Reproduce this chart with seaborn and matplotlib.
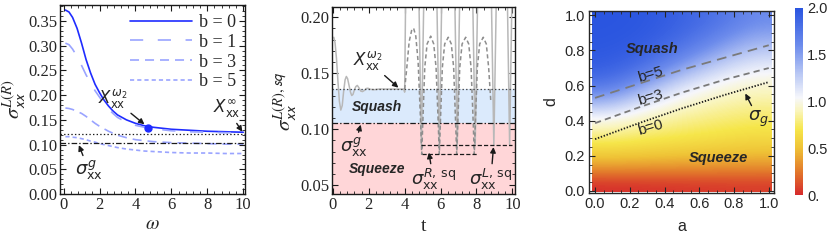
import numpy as np
import matplotlib
matplotlib.use("Agg")
import matplotlib.pyplot as plt
import seaborn as sns
from matplotlib.colors import LinearSegmentedColormap
from matplotlib.ticker import MultipleLocator, FormatStrFormatter

# ---- panel 1: variance vs omega ----
omega = [0.1, 0.3, 0.5, 0.75, 1.0, 1.25, 1.5, 1.75, 2.0, 2.25, 2.5, 2.75, 3.0, 3.5,
         4.0, 4.5, 5.0, 6.0, 7.0, 8.0, 9.0, 10.0]
sig_b0 = [0.372, 0.368, 0.357, 0.335, 0.305, 0.272, 0.245, 0.222, 0.205, 0.190, 0.178, 0.168,
          0.160, 0.150, 0.143, 0.138, 0.135, 0.131, 0.129, 0.127, 0.126, 0.125]
sig_b1 = [0.305, 0.302, 0.293, 0.278, 0.260, 0.241, 0.225, 0.209, 0.196, 0.183, 0.172, 0.163,
          0.155, 0.145, 0.139, 0.135, 0.132, 0.128, 0.126, 0.125, 0.124, 0.124]
sig_b3 = [0.174, 0.173, 0.171, 0.167, 0.163, 0.157, 0.150, 0.143, 0.137, 0.132, 0.127, 0.123,
          0.119, 0.114, 0.110, 0.108, 0.106, 0.104, 0.103, 0.102, 0.101, 0.101]
sig_b5 = [0.116, 0.116, 0.115, 0.114, 0.112, 0.110, 0.107, 0.105, 0.102, 0.100, 0.098, 0.096,
          0.094, 0.091, 0.089, 0.087, 0.086, 0.084, 0.083, 0.083, 0.082, 0.082]
b_labels = ["b = 0", "b = 1", "b = 3", "b = 5"]
x_inf_level = 0.121
sig_g_level1 = 0.104
omega2_pt = (4.72, 0.133)

# ---- panel 2: time evolution ----
t_solid = [0.05, 0.12, 0.2, 0.28, 0.36, 0.44, 0.52, 0.6, 0.68, 0.75, 0.82, 0.9, 0.98, 1.05,
           1.12, 1.2, 1.28, 1.36, 1.45, 1.55, 1.65, 1.75, 1.85, 1.95, 2.1, 2.3, 2.6, 3.0, 3.5, 3.95,
           4.0, 4.08, 4.4, 4.8, 4.93, 5.06, 5.43, 5.8, 5.93, 6.06, 6.43, 6.8, 6.93, 7.06,
           7.43, 7.8, 7.93, 8.06, 8.45, 8.84, 8.97, 9.1, 9.42, 9.73, 9.85, 9.97, 10.1]
v_solid = [0.182, 0.177, 0.163, 0.143, 0.125, 0.117, 0.121, 0.134, 0.144, 0.147, 0.145, 0.139, 0.133, 0.130,
           0.131, 0.135, 0.138, 0.139, 0.137, 0.134, 0.1335, 0.1345, 0.1362, 0.1365, 0.1355, 0.1352, 0.1358,
           0.1357, 0.1357, 0.1357,
           0.133, 0.26, 0.33, 0.21, 0.0855, 0.21, 0.33, 0.21, 0.0855, 0.21, 0.33, 0.21, 0.0855, 0.21,
           0.33, 0.21, 0.0855, 0.21, 0.33, 0.21, 0.0855, 0.21, 0.33, 0.21, 0.0855, 0.21, 0.30]
t_dash = [4.0, 4.12, 4.25, 4.4, 4.5, 4.62, 4.75, 4.88, 4.95, 5.02, 5.12, 5.25, 5.45, 5.62, 5.75,
          5.86, 5.93, 6.0, 6.1, 6.23, 6.43, 6.6, 6.73, 6.83, 6.9, 6.97, 7.07, 7.2, 7.4, 7.57,
          7.7, 7.81, 7.88, 7.95, 8.05, 8.18, 8.38, 8.55, 8.68, 8.8]
v_dash = [0.1357, 0.155, 0.178, 0.189, 0.190, 0.183, 0.160, 0.110, 0.0775, 0.110, 0.155, 0.176, 0.183, 0.176, 0.155,
          0.110, 0.0775, 0.110, 0.155, 0.176, 0.182, 0.176, 0.155, 0.110, 0.0775, 0.110, 0.155, 0.176, 0.182, 0.176,
          0.155, 0.110, 0.0775, 0.110, 0.155, 0.176, 0.182, 0.176, 0.155, 0.125]
x_w2_level = 0.1357
sig_g_level2 = 0.1054
sig_L_sq = 0.0855
sig_R_sq = 0.0775
sig_L_span = (4.93, 10.0)
sig_R_span = (4.95, 8.04)

# ---- panel 3: squeezing map over (a, d) ----
a_grid = [0.0, 0.25, 0.5, 0.75, 1.0]
d_grid = [0.0, 0.1, 0.2, 0.3, 0.4, 0.5, 0.6, 0.7, 0.8, 0.9, 1.0]
ratio_a0 = [0.02, 0.36, 0.60, 0.82, 1.02, 1.40, 1.75, 1.92, 1.97, 1.99, 2.00]
ratio_a25 = [0.03, 0.35, 0.58, 0.76, 0.91, 1.12, 1.45, 1.75, 1.90, 1.96, 1.98]
ratio_a50 = [0.04, 0.34, 0.56, 0.72, 0.84, 0.96, 1.15, 1.45, 1.70, 1.85, 1.90]
ratio_a75 = [0.05, 0.33, 0.54, 0.68, 0.79, 0.89, 1.00, 1.20, 1.45, 1.65, 1.78]
ratio_a100 = [0.06, 0.32, 0.52, 0.65, 0.75, 0.85, 0.94, 1.06, 1.25, 1.45, 1.60]
a_line = [0.0, 0.25, 0.5, 0.75, 1.0]
d_b0 = [0.295, 0.385, 0.47, 0.548, 0.62]
d_b3 = [0.386, 0.475, 0.56, 0.635, 0.70]
d_b5 = [0.53, 0.61, 0.69, 0.76, 0.83]
cbar_ticks = [0.0, 0.5, 1.0, 1.5, 2.0]
cbar_labels = ["0.", "0.5", "1.0", "1.5", "2.0"]

sns.set_theme(style="ticks")
serif = ["Liberation Serif", "DejaVu Serif"]
sans = ["Liberation Sans", "DejaVu Sans"]
plt.rcParams["font.family"] = serif
plt.rcParams["mathtext.fontset"] = "stix"
plt.rcParams["lines.scale_dashes"] = False
plt.rcParams["axes.linewidth"] = 1.0

fig = plt.figure(figsize=(8.3, 2.42), dpi=100)
ax1 = fig.add_axes([0.0723, 0.198, 0.2229, 0.781])
ax2 = fig.add_axes([0.400, 0.198, 0.2205, 0.773])
ax3 = fig.add_axes([0.7096, 0.2025, 0.2229, 0.752])
cax = fig.add_axes([0.958, 0.194, 0.0096, 0.773])

for ax in (ax1, ax2):
    ax.tick_params(which="both", direction="in", top=True, right=True, labelsize=12,
                   color="k", pad=2)
    ax.tick_params(which="major", length=4, width=0.8)
    ax.tick_params(which="minor", length=2, width=0.6)
    for sp in ax.spines.values():
        sp.set_color("k")

ann = dict(arrowstyle="-|>", color="k", lw=1.0, mutation_scale=8, shrinkA=0, shrinkB=0)

# panel 1
blue = "#1f2cff"
light = "#9aa4ff"
sns.lineplot(x=omega, y=sig_b0, ax=ax1, color=blue, lw=1.2, label=b_labels[0])
sns.lineplot(x=omega, y=sig_b1, ax=ax1, color=light, lw=1.2, label=b_labels[1])
ax1.lines[-1].set_dashes((9.5, 10.5))
sns.lineplot(x=omega, y=sig_b3, ax=ax1, color=light, lw=1.2, label=b_labels[2])
ax1.lines[-1].set_dashes((6.5, 4.3))
sns.lineplot(x=omega, y=sig_b5, ax=ax1, color=light, lw=1.2, label=b_labels[3])
ax1.lines[-1].set_dashes((3, 2.2))
ax1.axhline(x_inf_level, color="k", lw=0.9, dashes=(1, 1.6))
ax1.axhline(sig_g_level1, color="k", lw=0.9, dashes=(4, 1.5, 1, 1.5))
ax1.plot(*omega2_pt, "o", color=blue, ms=5)
ax1.set_xlim(-0.2, 10.1)
ax1.set_ylim(0.0, 0.382)
ax1.xaxis.set_major_locator(MultipleLocator(2))
ax1.xaxis.set_minor_locator(MultipleLocator(0.4))
ax1.yaxis.set_major_locator(MultipleLocator(0.05))
ax1.yaxis.set_minor_locator(MultipleLocator(0.01))
ax1.yaxis.set_major_formatter(FormatStrFormatter("%.2f"))
ax1.set_xlabel(r"$\omega$", fontsize=14, labelpad=2)
ax1.set_ylabel(r"$\sigma_{\mathsf{xx}}^{L(R)}$", fontsize=15, labelpad=0)
leg = ax1.legend(loc="upper right", frameon=False, fontsize=13, handlelength=3.4,
                 handletextpad=0.4, labelspacing=0.15, borderaxespad=0.1)
ax1.annotate(r"$X_{\mathsf{xx}}^{\omega_2}$", xy=(4.5, 0.141), xytext=(2.75, 0.193),
             fontsize=12, ha="center", va="center", arrowprops=ann, math_fontfamily="dejavusans")
ax1.annotate(r"$X_{\mathsf{xx}}^{\infty}$", xy=(9.95, 0.126), xytext=(9.1, 0.172),
             fontsize=12, ha="center", va="center", arrowprops=ann, math_fontfamily="dejavusans")
ax1.annotate(r"$\sigma_{\mathsf{xx}}^{g}$", xy=(0.85, 0.099), xytext=(1.4, 0.048),
             fontsize=13, ha="center", va="center", arrowprops=ann, math_fontfamily="dejavusans")

# panel 2
ax2.axhspan(0.0, sig_g_level2, color="#ffd6d8", lw=0, zorder=0)
ax2.axhspan(sig_g_level2, x_w2_level, color="#dbeafc", lw=0, zorder=0)
sns.lineplot(x=t_solid, y=v_solid, ax=ax2, color="#b8b8b8", lw=1.1)
sns.lineplot(x=t_dash, y=v_dash, ax=ax2, color="#8e8e8e", lw=1.1)
ax2.lines[-1].set_dashes((3, 2))
ax2.axhline(x_w2_level, color="#444444", lw=0.9, dashes=(1, 1.6))
ax2.axhline(sig_g_level2, color="k", lw=0.9, dashes=(4, 1.5, 1, 1.5))
ax2.plot(sig_L_span, [sig_L_sq, sig_L_sq], color="k", lw=0.9, dashes=(3, 1.5))
ax2.plot(sig_R_span, [sig_R_sq, sig_R_sq], color="k", lw=0.9, dashes=(3, 1.5))
ax2.set_xlim(-0.05, 10.15)
ax2.set_ylim(0.042, 0.209)
ax2.xaxis.set_major_locator(MultipleLocator(2))
ax2.xaxis.set_minor_locator(MultipleLocator(0.4))
ax2.yaxis.set_major_locator(MultipleLocator(0.05))
ax2.yaxis.set_minor_locator(MultipleLocator(0.01))
ax2.yaxis.set_major_formatter(FormatStrFormatter("%.2f"))
ax2.set_xlabel("t", fontsize=14, labelpad=4)
ax2.set_ylabel(r"$\sigma_{\mathsf{xx}}^{L(R),\mathsf{sq}}$", fontsize=15, labelpad=1)
bold_it = dict(family="Liberation Sans", fontweight="bold", fontstyle="italic")
ax2.text(2.45, 0.1195, "Squash", fontsize=10, ha="center", va="center", **bold_it)
ax2.text(2.45, 0.0645, "Squeeze", fontsize=10, ha="center", va="center", **bold_it)
ax2.annotate(r"$X_{\mathsf{xx}}^{\omega_2}$", xy=(3.65, 0.137), xytext=(1.95, 0.161),
             fontsize=12, ha="center", va="center", arrowprops=ann, math_fontfamily="dejavusans")
ax2.annotate(r"$\sigma_{\mathsf{xx}}^{g}$", xy=(1.55, 0.104), xytext=(1.2, 0.084),
             fontsize=13, ha="center", va="center", arrowprops=ann, math_fontfamily="dejavusans")
ax2.annotate(r"$\sigma_{\mathsf{xx}}^{R,\,\mathsf{sq}}$", xy=(5.35, 0.079), xytext=(5.6, 0.055),
             fontsize=13, ha="center", va="center", arrowprops=ann, math_fontfamily="dejavusans")
ax2.annotate(r"$\sigma_{\mathsf{xx}}^{L,\,\mathsf{sq}}$", xy=(8.95, 0.084), xytext=(8.8, 0.055),
             fontsize=13, ha="center", va="center", arrowprops=ann, math_fontfamily="dejavusans")

# panel 3
cmap = LinearSegmentedColormap.from_list("sq", [
    (0.00, "#d62a2c"), (0.12, "#e2762b"), (0.25, "#efc236"), (0.35, "#f6e64a"),
    (0.45, "#faf5bc"), (0.52, "#f6f7fb"), (0.65, "#b8c7f4"), (0.80, "#6d8cec"),
    (1.00, "#2a55e0")])
field = np.array([ratio_a0, ratio_a25, ratio_a50, ratio_a75, ratio_a100]).T
im = ax3.imshow(field, origin="lower", extent=(-0.02, 1.015, -0.005, 1.018), aspect="auto",
                cmap=cmap, vmin=0, vmax=2, interpolation="bicubic")
ax3.plot(a_line, d_b5, color="#7a7a7a", lw=1.3, dashes=(7, 4.5))
ax3.plot(a_line, d_b3, color="#7a7a7a", lw=1.3, dashes=(4.5, 3))
ax3.plot(a_line, d_b0, color="k", lw=1.3, dashes=(1, 1.2))
ax3.set_xlim(-0.035, 1.03)
ax3.set_ylim(-0.012, 1.025)
ax3.tick_params(which="both", direction="in", top=True, right=True, labelsize=10.5, pad=3)
ax3.tick_params(which="major", length=4, width=0.8)
ax3.tick_params(which="minor", length=2, width=0.6)
ax3.xaxis.set_major_locator(MultipleLocator(0.2))
ax3.xaxis.set_minor_locator(MultipleLocator(0.05))
ax3.yaxis.set_major_locator(MultipleLocator(0.2))
ax3.yaxis.set_minor_locator(MultipleLocator(0.05))
ax3.xaxis.set_major_formatter(FormatStrFormatter("%.1f"))
ax3.yaxis.set_major_formatter(FormatStrFormatter("%.1f"))
ax3.set_xlabel("a", fontsize=11.5, family=sans, labelpad=6)
ax3.set_ylabel("d", fontsize=11.5, family=sans, labelpad=4)
ax3.text(0.33, 0.81, "Squash", fontsize=10.5, ha="center", va="center", **bold_it)
ax3.text(0.71, 0.19, "Squeeze", fontsize=10.5, ha="center", va="center", **bold_it)
for txt, yy in (("b=5", 0.66), ("b=3", 0.53), ("b=0", 0.36)):
    ax3.text(0.32, yy, txt, fontsize=11, family=sans, ha="center", va="center", rotation=16)
ax3.annotate(r"$\sigma_g$", xy=(0.865, 0.555), xytext=(0.94, 0.41), fontsize=13,
             ha="center", va="center", arrowprops=ann, math_fontfamily="dejavusans")

cb = fig.colorbar(im, cax=cax, ticks=cbar_ticks)
cb.ax.set_yticklabels(cbar_labels)
cb.outline.set_visible(False)
cb.ax.tick_params(length=0, labelsize=10.5, pad=3)

for ax in (ax1, ax2):
    for lab in ax.get_xticklabels() + ax.get_yticklabels():
        lab.set_family(serif)
for ax in (ax3, cb.ax):
    for lab in ax.get_xticklabels() + ax.get_yticklabels():
        lab.set_family(sans)

fig.savefig("out.png", dpi=100)
